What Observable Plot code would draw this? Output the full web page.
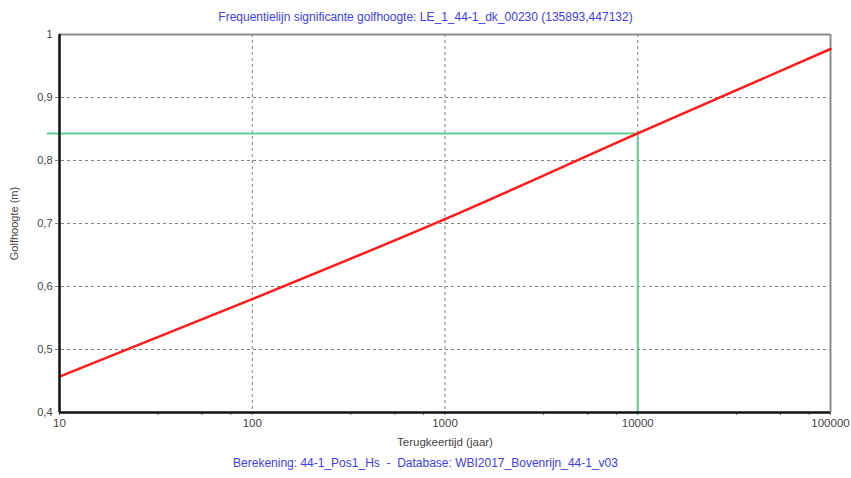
<!DOCTYPE html>
<html>
<head>
<meta charset="utf-8">
<script src="https://cdn.jsdelivr.net/npm/d3@7"></script>
<script src="https://cdn.jsdelivr.net/npm/@observablehq/plot@0.6"></script>
<style>
  html, body { margin: 0; padding: 0; background: #fff; }
  #wrap { position: relative; width: 851px; height: 478px; font-family: "Liberation Sans", Arial, sans-serif; }
  .cap { position: absolute; left: 0; width: 851px; text-align: center; font-size: 12px; color: #3d3df2; white-space: pre; }
</style>
</head>
<body>
<div id="wrap">
  <div class="cap" style="top:10px">Frequentielijn significante golfhoogte: LE_1_44-1_dk_00230 (135893,447132)</div>
  <div class="cap" style="top:456px">Berekening: 44-1_Pos1_Hs  -  Database: WBI2017_Bovenrijn_44-1_v03</div>
</div>
<script>
const returnPeriods = [10, 100, 1000, 10000, 100000];
const waveHeights = [0.457, 0.580, 0.707, 0.843, 0.977];
const designReturnPeriod = 10000;
const designHeight = 0.843;
const xTicks = [10, 100, 1000, 10000, 100000];
const xMinorTicks = [32.5, 55, 77.5, 325, 550, 775, 3250, 5500, 7750, 32500, 55000, 77500];
const yTicks = [0.4, 0.5, 0.6, 0.7, 0.8, 0.9, 1];

const data = returnPeriods.map((t, i) => ({t, h: waveHeights[i]}));
const grid = {stroke: "#808080", strokeOpacity: 1, strokeDasharray: "3,3"};

const chart = Plot.plot({
  width: 851,
  height: 478,
  marginTop: 34,
  marginLeft: 59,
  marginRight: 21,
  marginBottom: 66,
  x: {type: "log", domain: [10, 100000]},
  y: {domain: [0.4, 1]},
  style: {fontFamily: "'Liberation Sans', Arial, sans-serif", fontSize: "11px", color: "#444", background: "transparent", overflow: "visible"},
  marks: [
    Plot.gridX(xTicks.slice(1, -1), grid),
    Plot.gridY(yTicks.slice(1, -1), {...grid, x1: 10, x2: 100000, insetLeft: -4}),
    Plot.axisX(xMinorTicks, {tickSize: 3, tickFormat: () => "", stroke: "#666", label: null}),
    Plot.axisX(xTicks, {tickSize: 3, tickPadding: 3, stroke: "#666", tickFormat: d => String(d),
      label: "Terugkeertijd (jaar)", labelAnchor: "center", labelArrow: "none", labelOffset: 33, fontSize: 11.5}),
    Plot.axisY(yTicks, {tickSize: 0, tickPadding: 7, tickFormat: d => String(d).replace(".", ","),
      label: "Golfhoogte (m)", labelAnchor: "center", labelArrow: "none", labelOffset: 49}),
    Plot.ruleY([1], {stroke: "#8c8c8c", strokeWidth: 2}),
    Plot.ruleX([100000], {stroke: "#8c8c8c", strokeWidth: 2}),
    Plot.ruleY([designHeight], {x1: 10, x2: designReturnPeriod, stroke: "#5fcf8f", strokeWidth: 2, insetLeft: -12}),
    Plot.ruleX([designReturnPeriod], {y1: 0.4, y2: designHeight, stroke: "#5fcf8f", strokeWidth: 2}),
    Plot.line(data, {x: "t", y: "h", stroke: "#ff1a1a", strokeWidth: 2.5, curve: "monotone-x"}),
    Plot.ruleX([10], {stroke: "#111", strokeWidth: 2.5, y1: 0.4, y2: 1}),
    Plot.ruleY([0.4], {stroke: "#111", strokeWidth: 2.5, x1: 10, x2: 100000})
  ]
});
chart.style.position = "absolute";
chart.style.left = "0";
chart.style.top = "0";
document.getElementById("wrap").appendChild(chart);
</script>
</body>
</html>
